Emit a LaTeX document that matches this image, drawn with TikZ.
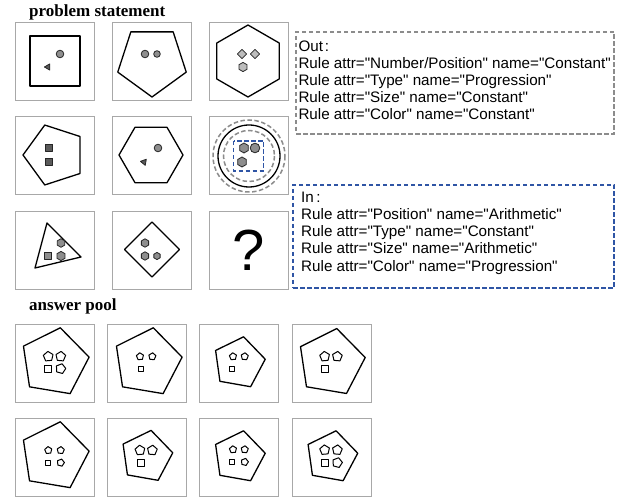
\documentclass[tikz,border=0pt]{standalone}
\usepackage{fontspec}
\setmainfont{Liberation Serif}
\newfontfamily\arialf{Liberation Sans}
\usetikzlibrary{shapes.geometric}
\definecolor{panelgray}{HTML}{A8A8A8}
\definecolor{dashgray}{HTML}{8C8C8C}
\definecolor{ruleblue}{HTML}{2F55A5}
\definecolor{midgray}{HTML}{8E8E8E}
\definecolor{lightgrayb}{HTML}{BDBDBD}
\definecolor{darkgrayb}{HTML}{5A5A5A}
\newcommand\rpoly[6][]{%
  \pgfmathtruncatemacro\rpolyn{#5-1}%
  \draw[#1,shift={(#2,#3)}] (#6:#4) \foreach \k in {1,...,\rpolyn}{ -- (#6+\k*360/#5:#4)} -- cycle;}
\tikzset{
  panel/.style={draw=panelgray, line width=0.9pt, minimum width=79pt, minimum height=78pt, inner sep=0pt, outer sep=0pt},
  outline/.style={draw=black, line width=1.3pt, line join=round},
  piece/.style={draw=black!85, line width=0.8pt, fill=#1, line join=round},
  hollow/.style={draw=black, line width=1pt, fill=white, line join=round},
  gdash/.style={draw=dashgray, line width=1.5pt, dash pattern=on 4.5pt off 2.5pt},
  bdash/.style={draw=ruleblue, line width=1.5pt, dash pattern=on 4.5pt off 2.5pt},
  heading/.style={font=\fontsize{17}{20}\selectfont\bfseries, anchor=base west, inner sep=0pt},
  ruletext/.style={font=\arialf\fontsize{15.2}{17}\selectfont, anchor=base west, inner sep=0pt},
}
\begin{document}
\begin{tikzpicture}[x=1pt,y=-1pt]
\useasboundingbox[fill=white] (0,0) rectangle (630,497);

% headings
\node[heading] (hp) at (29,17) {problem statement};
\node[heading] (ha) at (29,311) {answer pool};

% problem panels
\node[panel] (p11) at (54.5,61) {};
\node[panel] (p12) at (152,61) {};
\node[panel] (p13) at (249,61) {};
\node[panel] (p21) at (54.5,155) {};
\node[panel] (p22) at (152,155) {};
\node[panel] (p23) at (249,155) {};
\node[panel] (p31) at (54.5,250) {};
\node[panel] (p32) at (152,250) {};
\node[panel] (p33) at (249,250) {};

% answer panels
\node[panel] (a1) at (55,363) {};
\node[panel] (a2) at (147,363) {};
\node[panel] (a3) at (239,363) {};
\node[panel] (a4) at (331.5,363) {};
\node[panel] (a5) at (55,457) {};
\node[panel] (a6) at (147,457) {};
\node[panel] (a7) at (239,457) {};
\node[panel] (a8) at (331.5,457) {};

% ---- row 1 ----
\draw[outline, line width=1.1pt] (30,36) rectangle (80,86);
\draw[piece=midgray] (60,54) circle[radius=3.8];
\rpoly[piece=darkgrayb]{48}{67}{3.6}{3}{180}

\rpoly[outline]{152}{61}{36}{5}{90}
\draw[piece=midgray] (145,54) circle[radius=3.8];
\draw[piece=midgray] (157,54) circle[radius=3.3];

\rpoly[outline]{248}{61}{36}{6}{-90}
\rpoly[piece=lightgrayb]{242}{54}{4.6}{4}{0}
\rpoly[piece=lightgrayb]{255}{54}{4.6}{4}{0}
\rpoly[piece=lightgrayb]{243}{67}{4.6}{6}{-90}

% ---- row 2 ----
\rpoly[outline]{54.5}{155}{31.5}{5}{180}
\draw[piece=darkgrayb] (45.5,144.5) rectangle (52.5,151.5);
\draw[piece=darkgrayb] (45.5,158.5) rectangle (52.5,165.5);

\rpoly[outline]{151}{155}{32}{6}{0}
\draw[piece=midgray] (158,148) circle[radius=3.8];
\rpoly[piece=darkgrayb]{144}{162}{3.6}{3}{190}

\draw[gdash] (249,156) circle[radius=36];
\draw[outline] (249,156) circle[radius=31];
\draw[gdash] (249,156) circle[radius=25.5];
\draw[bdash] (233.5,141) rectangle (263.5,171);
\rpoly[piece=midgray]{244}{148}{5}{6}{-90}
\draw[piece=midgray] (255,148) circle[radius=4.8];
\rpoly[piece=midgray]{242}{162}{5}{6}{-90}

% ---- row 3 ----
\draw[outline] (47,223) -- (81,257) -- (35,268) -- cycle;
\rpoly[piece=midgray]{61}{243}{4.3}{6}{-90}
\draw[piece=midgray] (44.5,252.5) rectangle (51.5,259.5);
\rpoly[piece=midgray]{61}{256}{4.6}{6}{-90}

\draw[outline] (152,222) -- (179.5,249.5) -- (152,277) -- (124.5,249.5) -- cycle;
\rpoly[piece=midgray]{145}{243}{4.2}{6}{-90}
\rpoly[piece=midgray]{145}{256}{4.2}{6}{-90}
\rpoly[piece=midgray]{157}{256}{3.6}{6}{-90}

\node[font=\arialf\fontsize{58}{60}\selectfont, inner sep=0pt] (q) at (249,250) {?};

% ---- answer pool row 1 ----
\rpoly[outline]{54.5}{362.3}{35}{5}{-80.5}
\rpoly[hollow]{48.3}{356.5}{5.1}{5}{-95}
\rpoly[hollow]{60.7}{356.5}{5.1}{5}{-85}
\draw[hollow] (44.8,365.2) rectangle (51.8,372.2);
\rpoly[hollow]{60.7}{368.7}{5.1}{5}{-75}

\rpoly[outline]{147.5}{362.3}{35}{5}{-80.5}
\rpoly[hollow]{140}{356.5}{3.7}{5}{-95}
\rpoly[hollow]{152.3}{356.5}{3.7}{5}{-85}
\draw[hollow] (138.1,366.1) rectangle (143.3,371.3);

\rpoly[outline]{239}{362.9}{26.5}{5}{-80}
\rpoly[hollow]{233}{356.5}{3.7}{5}{-95}
\rpoly[hollow]{244.7}{356.5}{3.7}{5}{-85}
\draw[hollow] (229.7,366.1) rectangle (234.9,371.3);

\rpoly[outline]{331.1}{362.6}{34.5}{5}{-80.5}
\rpoly[hollow]{324.7}{356.5}{5.1}{5}{-95}
\rpoly[hollow]{337.3}{356.5}{5.1}{5}{-85}
\draw[hollow] (321.2,365.2) rectangle (328.2,372.2);

% ---- answer pool row 2 ----
\rpoly[outline]{54.5}{456.3}{35}{5}{-80.5}
\rpoly[hollow]{48.3}{450.3}{3.7}{5}{-95}
\rpoly[hollow]{60.7}{450.3}{3.7}{5}{-85}
\draw[hollow] (45.7,460.1) rectangle (50.9,465.3);
\rpoly[hollow]{60.7}{462.7}{3.7}{5}{-75}

\rpoly[outline]{146.5}{456.5}{26.5}{5}{-80}
\rpoly[hollow]{140}{450.3}{5.1}{5}{-95}
\rpoly[hollow]{152.3}{450.3}{5.1}{5}{-85}
\draw[hollow] (137,459.6) rectangle (144,466.6);

\rpoly[outline]{239}{456.9}{26.5}{5}{-80}
\rpoly[hollow]{233}{449.5}{3.7}{5}{-95}
\rpoly[hollow]{244.7}{449.5}{3.7}{5}{-85}
\draw[hollow] (229.7,459.4) rectangle (234.9,464.6);
\rpoly[hollow]{244.7}{462}{3.7}{5}{-75}

\rpoly[outline]{331.5}{456.9}{26.5}{5}{-80}
\rpoly[hollow]{324.7}{450}{5.1}{5}{-95}
\rpoly[hollow]{337.3}{450}{5.1}{5}{-85}
\draw[hollow] (321.2,459.2) rectangle (328.2,466.2);
\rpoly[hollow]{337.3}{462.7}{5.1}{5}{-75}

% ---- rule boxes ----
\node[gdash, minimum width=318pt, minimum height=102pt, inner sep=0pt] (outbox) at (455,83) {};
\node[ruletext] (o1) at (298.3,52) {Out\kern2pt:};
\node[ruletext] (o2) at (298.3,69) {Rule attr="Number/Position" name="Constant"};
\node[ruletext] (o3) at (298.3,86) {Rule attr="Type" name="Progression"};
\node[ruletext] (o4) at (298.3,103) {Rule attr="Size" name="Constant"};
\node[ruletext] (o5) at (298.3,120) {Rule attr="Color" name="Constant"};

\node[bdash, minimum width=321pt, minimum height=103pt, inner sep=0pt] (inbox) at (453.5,236.5) {};
\node[ruletext] (i1) at (301,202.3) {In\kern2.5pt:};
\node[ruletext] (i2) at (301,219.5) {Rule attr="Position" name="Arithmetic"};
\node[ruletext] (i3) at (301,236.7) {Rule attr="Type" name="Constant"};
\node[ruletext] (i4) at (301,253.9) {Rule attr="Size" name="Arithmetic"};
\node[ruletext] (i5) at (301,271.1) {Rule attr="Color" name="Progression"};
\end{tikzpicture}
\end{document}
